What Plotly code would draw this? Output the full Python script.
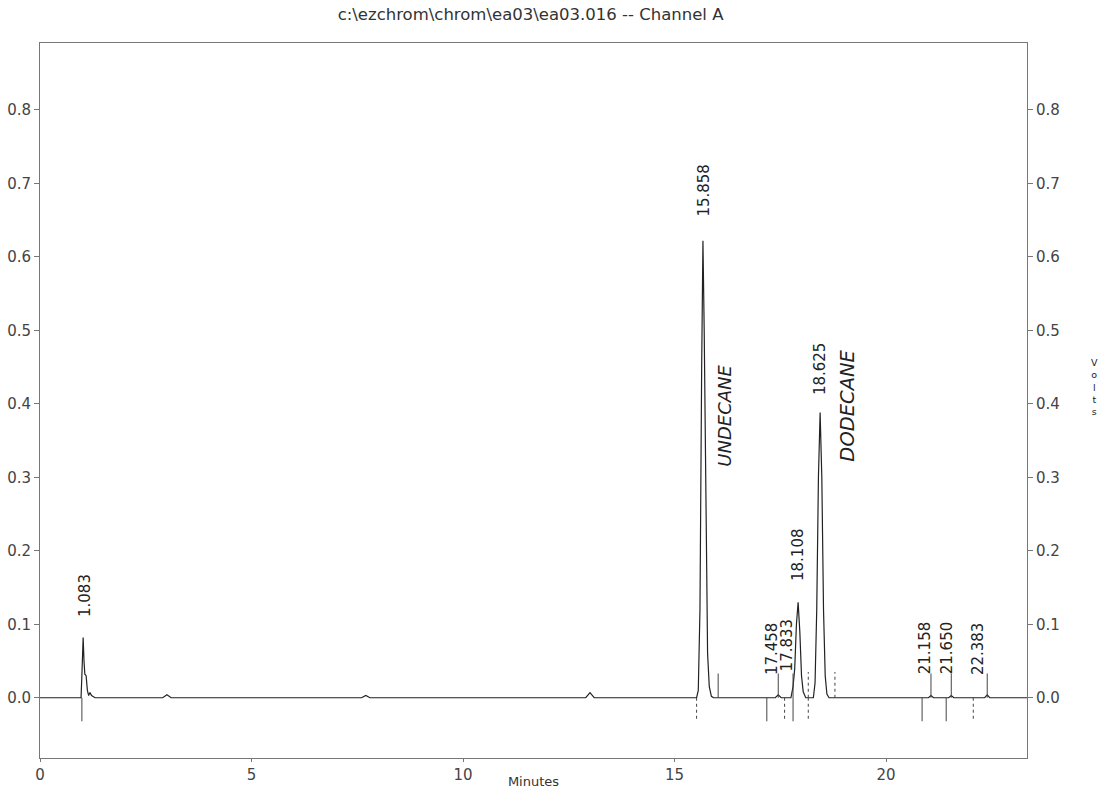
import plotly.graph_objects as go

# ---- data ----
time_min = [0.0, 0.5, 0.97, 0.99, 1.0, 1.02, 1.04, 1.06, 1.09, 1.12, 1.15, 1.18, 1.22, 1.3, 1.8,
            2.9, 3.0, 3.1, 6.5, 7.6, 7.7, 7.8, 12.9, 13.0, 13.1,
            15.52, 15.56, 15.60, 15.64, 15.67, 15.70, 15.74, 15.78, 15.82, 15.87, 15.92,
            17.38, 17.45, 17.52, 17.75, 17.8, 17.84, 17.88, 17.92, 17.96, 18.0, 18.04, 18.1,
            18.28, 18.32, 18.36, 18.40, 18.44, 18.48, 18.52, 18.56, 18.6, 18.65, 19.0,
            21.0, 21.06, 21.12, 21.48, 21.54, 21.6, 22.33, 22.39, 22.45, 23.33]
volts = [0.0, 0.0, 0.0, 0.03, 0.06, 0.082, 0.05, 0.032, 0.03, 0.01, 0.003, 0.007, 0.003, 0.0, 0.0,
         0.0, 0.004, 0.0, 0.0, 0.0, 0.003, 0.0, 0.0, 0.007, 0.0,
         0.0, 0.01, 0.12, 0.45, 0.622, 0.5, 0.22, 0.06, 0.015, 0.002, 0.0,
         0.0, 0.004, 0.0, 0.0, 0.015, 0.04, 0.1, 0.13, 0.09, 0.03, 0.008, 0.0,
         0.0, 0.02, 0.12, 0.3, 0.388, 0.3, 0.12, 0.03, 0.005, 0.0, 0.0,
         0.0, 0.003, 0.0, 0.0, 0.003, 0.0, 0.0, 0.004, 0.0, 0.0]

peak_labels = ["1.083", "15.858", "17.458", "17.833", "18.108", "18.625", "21.158", "21.650", "22.383"]
label_x = [1.06, 15.70, 17.30, 17.66, 17.92, 18.44, 20.92, 21.44, 22.17]
label_base = [0.109, 0.653, 0.030, 0.034, 0.157, 0.410, 0.030, 0.030, 0.030]

up_marks = [16.03, 17.45, 17.8, 21.06, 21.54, 22.39]
up_marks_dotted = [18.16, 18.79]
down_marks = [0.99, 17.18, 17.8, 20.85, 21.42]
down_marks_dotted = [15.52, 17.6, 18.16, 22.06]

x_ticks = [0, 5, 10, 15, 20]
y_ticks = [0.0, 0.1, 0.2, 0.3, 0.4, 0.5, 0.6, 0.7, 0.8]
y_tick_text = ["0.0", "0.1", "0.2", "0.3", "0.4", "0.5", "0.6", "0.7", "0.8"]

handwritten = ["UNDECANE", "DODECANE"]
handwritten_x = [16.19, 19.10]
handwritten_y = [0.313, 0.32]
handwritten_size = [18, 19.5]

title_text = r"c:\ezchrom\chrom\ea03\ea03.016 -- Channel A"

FONT = "DejaVu Sans"


def segs(xs, y0, y1):
    sx, sy = [], []
    for x in xs:
        sx += [x, x, None]
        sy += [y0, y1, None]
    return sx, sy


fig = go.Figure()
fig.add_trace(go.Scatter(x=time_min, y=volts, mode="lines",
                         line=dict(color="#222222", width=1.2), hoverinfo="skip"))

for xs, y0, y1, dash in [(up_marks, 0.0, 0.033, "solid"), (up_marks_dotted, 0.0, 0.035, "dot"),
                         (down_marks, 0.0, -0.032, "solid"), (down_marks_dotted, 0.0, -0.032, "dot")]:
    sx, sy = segs(xs, y0, y1)
    fig.add_trace(go.Scatter(x=sx, y=sy, mode="lines",
                             line=dict(color="#444444", width=1, dash=dash), hoverinfo="skip"))

# invisible trace on right axis
fig.add_trace(go.Scatter(x=[0], y=[0], yaxis="y2", mode="markers",
                         marker=dict(opacity=0), hoverinfo="skip"))

for lx, lab, yb in zip(label_x, peak_labels, label_base):
    fig.add_annotation(x=lx, y=yb, text=lab, textangle=-90, showarrow=False,
                       xanchor="center", yanchor="bottom", borderpad=0,
                       font=dict(family=FONT, size=15, color="#222222"))

for txt, hx, hy, hs in zip(handwritten, handwritten_x, handwritten_y, handwritten_size):
    fig.add_annotation(x=hx, y=hy, text="<i>" + txt + "</i>", textangle=-90, showarrow=False,
                       xanchor="center", yanchor="bottom", borderpad=0,
                       font=dict(family=FONT, size=hs, color="#222222"))

fig.add_annotation(xref="paper", yref="paper", x=1.074, y=0.519, text="V<br>o<br>l<br>t<br>s",
                   showarrow=False, font=dict(family=FONT, size=9.5, color="#222222"))

axis_common = dict(showgrid=False, zeroline=False, showline=True, linecolor="#777777",
                   linewidth=1, ticks="outside", ticklen=5, tickcolor="#777777", automargin=False,
                   tickfont=dict(family=FONT, size=15, color="#444444"))

fig.update_layout(
    width=1117, height=789,
    margin=dict(l=40, r=90, t=43, b=31),
    paper_bgcolor="white", plot_bgcolor="white",
    showlegend=False,
    title=dict(text=title_text, x=0.475, xanchor="center", y=0.982, yanchor="middle",
               font=dict(family=FONT, size=16.5, color="#333333")),
    xaxis=dict(range=[0, 23.33], tickvals=x_ticks, mirror=True,
               title=dict(text="Minutes", standoff=0, font=dict(family=FONT, size=13, color="#333333")),
               **{**axis_common, "ticklen": 3}),
    yaxis=dict(range=[-0.082, 0.891], tickvals=y_ticks, ticktext=y_tick_text, **axis_common),
    yaxis2=dict(range=[-0.082, 0.891], tickvals=y_ticks, ticktext=y_tick_text, overlaying="y",
                side="right", anchor="x", **axis_common),
)

fig.write_html("out.html", config={"displayModeBar": False},
               post_script="document.body.style.margin='0';document.body.style.overflow='hidden';")
